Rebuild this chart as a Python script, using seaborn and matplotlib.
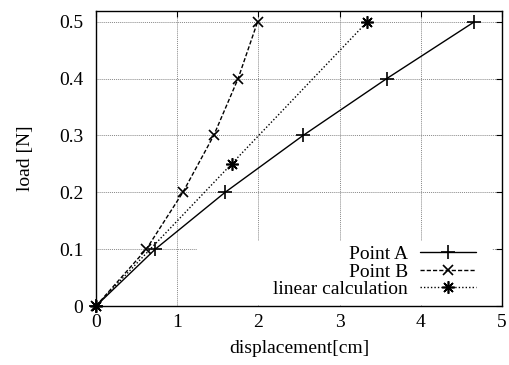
import matplotlib
matplotlib.use("Agg")
import matplotlib.pyplot as plt
import seaborn as sns
import pandas as pd
from matplotlib.patches import Rectangle

# data
load_A = [0.0, 0.1, 0.2, 0.3, 0.4, 0.5]
disp_A = [0.0, 0.73, 1.59, 2.55, 3.58, 4.66]
load_B = [0.0, 0.1, 0.2, 0.3, 0.4, 0.5]
disp_B = [0.0, 0.62, 1.07, 1.45, 1.75, 1.99]
load_lin = [0.0, 0.25, 0.5]
disp_lin = [0.0, 1.67, 3.34]
labels = ["Point A", "Point B", "linear calculation"]
xticks = [0, 1, 2, 3, 4, 5]
yticks = [0, 0.1, 0.2, 0.3, 0.4, 0.5]

sns.set_theme(style="white")
plt.rcParams['font.family'] = ['Liberation Serif', 'DejaVu Serif']

fig = plt.figure(figsize=(5.09, 3.65), dpi=100)
ax = fig.add_axes([0.1886, 0.1616, 0.7976, 0.8083])

series = [
    (disp_A, load_A, labels[0], "-", "+", 10),
    (disp_B, load_B, labels[1], (0, (3, 1.5)), "x", 7),
    (disp_lin, load_lin, labels[2], (0, (1, 1.5)), (8, 2, 0), 9),
]
for xs, ys, lab, ls, mk, ms in series:
    df = pd.DataFrame({"x": xs, "y": ys})
    sns.lineplot(data=df, x="x", y="y", ax=ax, color="black", linestyle=ls,
                 marker=mk, markersize=ms, markeredgewidth=1.2, linewidth=1.0,
                 label=lab, sort=False, zorder=3, markeredgecolor="black",
                 clip_on=False)

ax.set_xlim(0, 5)
ax.set_ylim(0, 0.519)
ax.set_xticks(xticks)
ax.set_yticks(yticks)
ax.set_xticklabels([str(t) for t in xticks])
ax.set_yticklabels(["0", "0.1", "0.2", "0.3", "0.4", "0.5"])
ax.grid(True, color="#888888", linestyle=(0, (1, 1)), linewidth=0.7, zorder=0)
ax.set_axisbelow(True)
for s in ax.spines.values():
    s.set_color("black")
    s.set_linewidth(1.0)
ax.tick_params(direction="in", length=4, width=0.8, top=True, right=True,
               colors="black", labelsize=14)
ax.tick_params(axis="y", pad=9)
ax.tick_params(axis="x", pad=6)
ax.set_xlabel("displacement[cm]", fontsize=14, color="black", labelpad=6)
ax.set_ylabel("load [N]", fontsize=14, color="black", labelpad=18)

# opaque key background as in the original
ax.add_patch(Rectangle((0.25, 0.004), 0.725, 0.215, transform=ax.transAxes,
                       facecolor="white", edgecolor="none", zorder=1))

leg = ax.legend(loc="lower right", bbox_to_anchor=(0.97, -0.02), markerfirst=False,
                frameon=False, fontsize=14, handlelength=2.9, handletextpad=0.6,
                labelspacing=0.0, borderpad=0.2)
for t in leg.get_texts():
    t.set_color("black")

fig.savefig("out.png", dpi=100)
